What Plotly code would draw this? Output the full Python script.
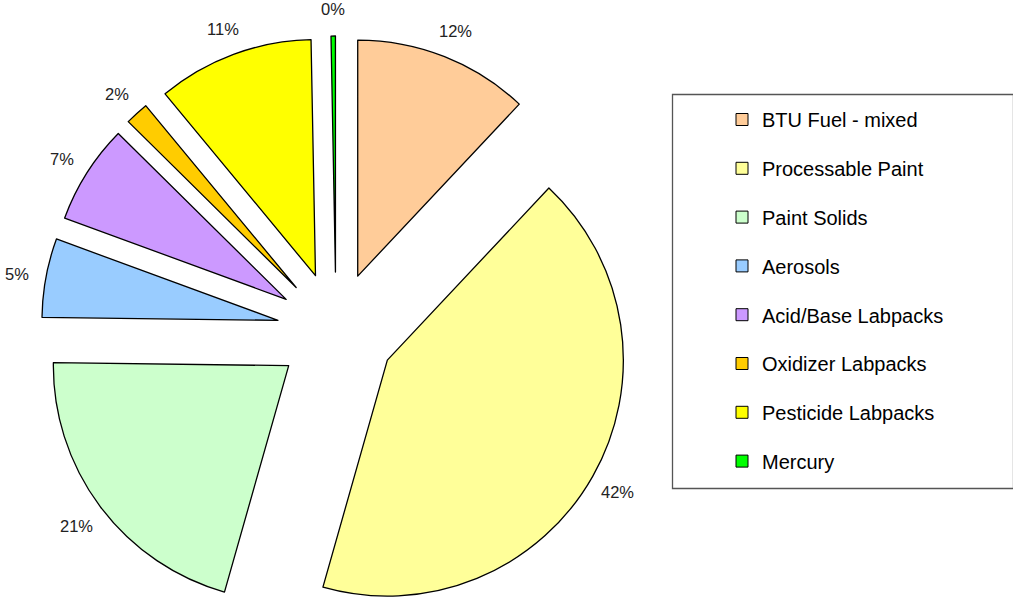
import math
import plotly.graph_objects as go

# ---- data ----
labels = ["BTU Fuel - mixed", "Processable Paint", "Paint Solids", "Aerosols",
          "Acid/Base Labpacks", "Oxidizer Labpacks", "Pesticide Labpacks", "Mercury"]
values = [12.0, 42.4, 20.8, 5.4, 6.8, 1.6, 10.7, 0.3]
colors = ["#FFCC99", "#FFFF99", "#CCFFCC", "#99CCFF",
          "#CC99FF", "#FFCC00", "#FFFF00", "#00FF00"]

W, H = 1013, 601
R = 236            # pie radius in px
CX, CY = 336, 331  # unexploded pie centre in px
D = 59             # explode distance in px
LABEL_OFF = 29     # distance of percent label centre beyond the arc
FONT = "Arial, Liberation Sans, sans-serif"

total = sum(values)
pct_text = [f"{round(v / total * 100):.0f}%" for v in values]

fig = go.Figure()

cum = 0.0
for i, v in enumerate(values):
    start = cum / total * 360.0
    mid = start + v / total * 180.0
    cum += v
    sx, sy = math.sin(math.radians(mid)), -math.cos(math.radians(mid))
    ox = CX + D * sx
    oy = CY + D * sy
    dom_x = [max(0, (ox - R) / W), min(1, (ox + R) / W)]
    dom_y = [max(0, 1 - (oy + R) / H), min(1, 1 - (oy - R) / H)]
    fig.add_trace(go.Pie(
        values=values,
        labels=labels,
        sort=False,
        direction="clockwise",
        rotation=0,
        domain=dict(x=dom_x, y=dom_y),
        marker=dict(
            colors=[colors[j] if j == i else "rgba(0,0,0,0)" for j in range(len(values))],
            line=dict(color="black",
                      width=[1.3 if j == i else 0 for j in range(len(values))]),
        ),
        textinfo="none",
        hoverinfo="skip",
        showlegend=False,
    ))
    # percent label, placed along the slice's mid-angle outside the arc
    lx = ox + (R + LABEL_OFF) * sx
    ly = oy + (R + LABEL_OFF) * sy + 1.5
    fig.add_annotation(
        x=lx / W, y=1 - ly / H, xref="paper", yref="paper",
        text=pct_text[i], showarrow=False, xanchor="center", yanchor="middle",
        font=dict(family=FONT, size=16.5, color="#222222"),
    )

# legend-only entries (tiny pies hidden beneath the legend)
for lab, col in zip(labels, colors):
    fig.add_trace(go.Pie(
        values=[1], labels=[lab], sort=False,
        marker=dict(colors=[col], line=dict(color="black", width=1)),
        domain=dict(x=[0.85, 0.8502], y=[0.5, 0.5003]),
        textinfo="none", hoverinfo="skip",
        legendgroup=lab, showlegend=True,
    ))

fig.add_shape(type="rect", xref="paper", yref="paper",
              x0=672.5 / W, x1=1013.5 / W, y0=1 - 488.5 / H, y1=1 - 94.5 / H,
              line=dict(color="#555555", width=1.3), fillcolor="white", layer="below")

fig.update_layout(
    width=W, height=H,
    margin=dict(l=0, r=0, t=0, b=0),
    paper_bgcolor="white", plot_bgcolor="white",
    font=dict(family=FONT, size=16, color="black"),
    legend=dict(
        x=722 / W, xanchor="left", y=1 - 100 / H, yanchor="top",
        bgcolor="white", borderwidth=0,
        font=dict(family=FONT, size=20, color="black"),
        tracegroupgap=19.8, itemclick=False, itemdoubleclick=False,
    ),
)

fig.write_html(
    "out.html",
    config={"displayModeBar": False},
    post_script="document.body.style.margin='0';document.body.style.overflow='hidden';",
)
